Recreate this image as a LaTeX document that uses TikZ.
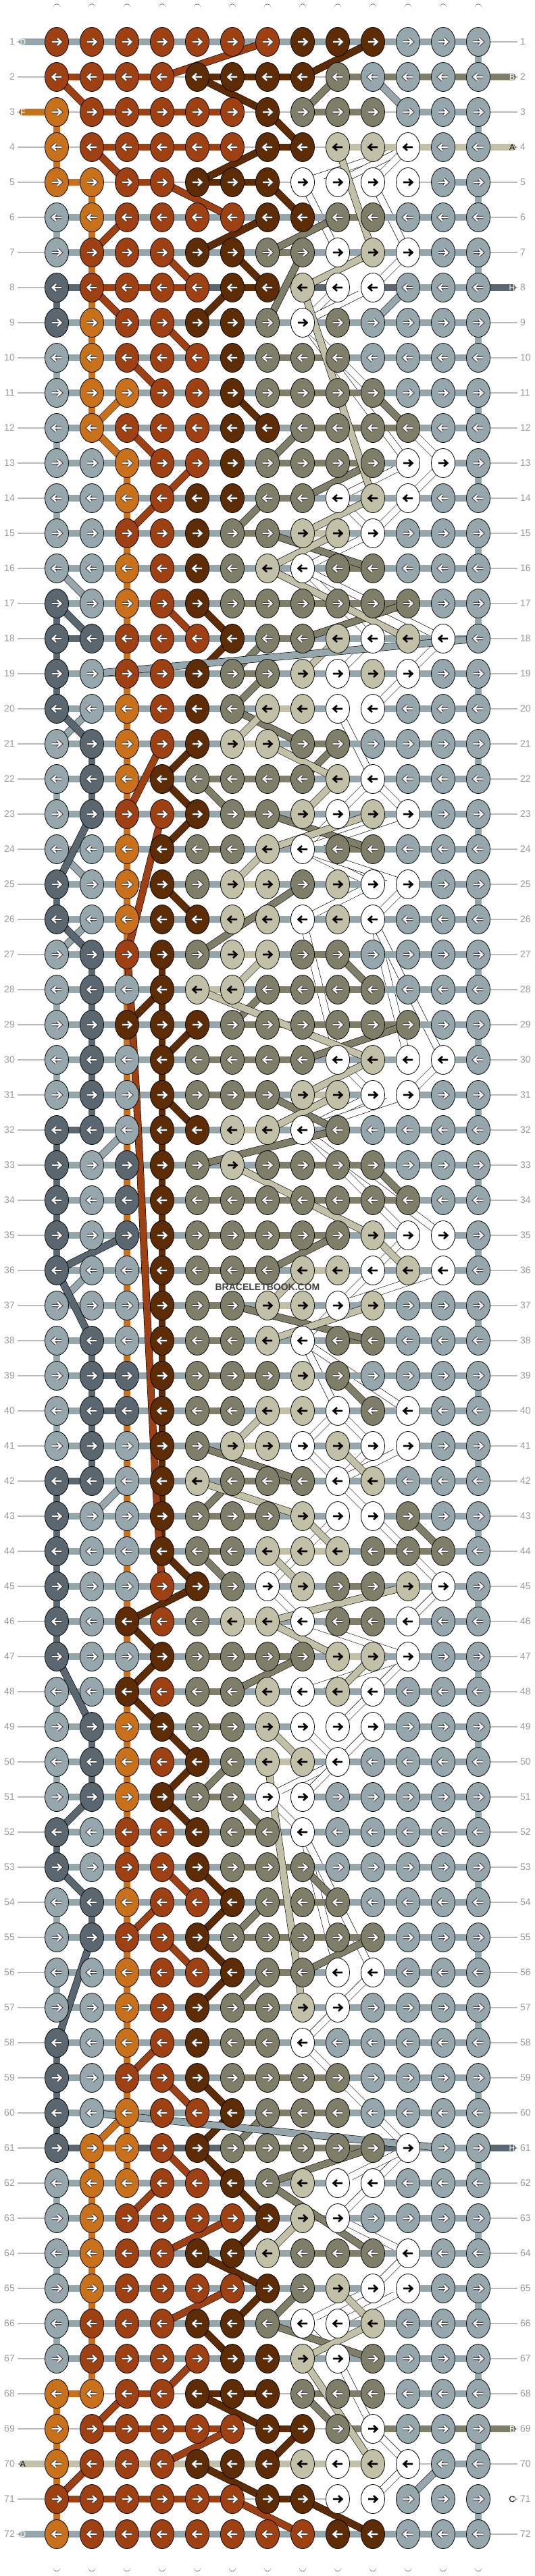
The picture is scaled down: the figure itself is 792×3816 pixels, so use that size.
\documentclass[tikz,border=0pt]{standalone}
\usepackage{fontspec}
\setmainfont{Liberation Sans}
\usetikzlibrary{shapes.geometric,backgrounds}
\definecolor{cD}{HTML}{95A6AD}
\definecolor{cF}{HTML}{C8701A}
\definecolor{cR}{HTML}{9E4012}
\definecolor{cK}{HTML}{5D2C04}
\definecolor{cB}{HTML}{7F7F69}
\definecolor{cA}{HTML}{C2C0A7}
\definecolor{cC}{HTML}{FFFFFF}
\definecolor{cH}{HTML}{5A6770}
\definecolor{Rule}{HTML}{BBBBBB}
\definecolor{Num}{HTML}{999999}
% strings that keep their own colour between two knots
\def\keepA{}\def\keepB{}\def\keepC{}\def\keepH{}
% strings that show between two knots of one column
\def\vertF{}\def\vertH{}
% light knots get a black arrow
\def\lightA{}\def\lightC{}

\tikzset{
  knot/.style={ellipse,draw=black,line width=.8pt,fill=c#1,minimum width=35pt,minimum height=43pt,inner sep=0pt},
  strand/.style={draw=black,line width=.6pt,double=c#1,double distance=9.6pt},
  basestr/.style={draw=black,line width=.6pt,double=white,double distance=9.6pt,line cap=round},
  guide/.style={draw=Rule,line width=1.4pt},
  num/.style={text=Num,font=\fontsize{14}{14}\selectfont,inner sep=0pt},
  tag/.style={font=\fontsize{12}{12}\selectfont,inner sep=0pt},
}

\newcommand\knotarrow[3]{%
  \ifcsname light#3\endcsname
    \draw[line width=2.6pt,shift={(#1)},xscale=#2] (-7,0)--(5,0) (1,-5)--(6.5,0)--(1,5);
  \else
    \draw[line width=4.4pt,black!80,shift={(#1)},xscale=#2] (-7,0)--(5,0) (1,-5)--(6.5,0)--(1,5);
    \draw[line width=2.4pt,white,shift={(#1)},xscale=#2] (-7,0)--(5,0) (1,-5)--(6.5,0)--(1,5);
  \fi}

\begin{document}
\begin{tikzpicture}[x=1pt,y=-1pt]
\useasboundingbox (0,0) rectangle (792,3816);

% rows of knots
\foreach \rw/\f/\row in {
 1/0/{R,R,R,R,R,R,R,K,K,K,D,D,D},
 2/1/{R,R,R,R,K,K,K,K,B,D,D,D,D},
 3/1/{F,R,R,R,R,R,K,B,B,B,D,D,D},
 4/1/{F,R,R,R,R,R,K,K,A,A,C,D,D},
 5/1/{F,F,R,R,K,K,K,C,C,C,C,D,D},
 6/0/{D,F,R,R,R,R,K,K,B,B,D,D,D},
 7/0/{D,R,R,R,K,K,B,B,C,A,C,D,D},
 8/1/{H,R,R,R,R,K,K,A,C,C,D,D,D},
 9/0/{H,F,R,R,K,K,B,C,B,D,D,D,D},
 10/0/{D,F,R,R,R,K,B,B,B,D,D,D,D},
 11/0/{D,F,F,R,R,K,B,B,B,B,D,D,D},
 12/0/{D,F,R,R,R,K,K,B,B,B,B,D,D},
 13/0/{D,D,F,R,R,K,B,B,B,B,C,C,D},
 14/0/{D,D,F,R,K,K,B,B,C,A,C,D,D},
 15/0/{D,D,R,R,K,B,B,A,A,C,D,D,D},
 16/0/{D,D,F,R,K,B,A,C,B,B,D,D,D},
 17/0/{H,D,F,R,K,B,B,B,B,B,B,D,D},
 18/0/{H,H,R,R,R,K,B,B,A,C,A,C,D},
 19/0/{H,D,R,R,K,B,B,A,C,A,C,D,D},
 20/0/{H,D,F,R,K,B,A,A,C,C,D,D,D},
 21/0/{D,H,F,R,K,A,A,B,B,D,D,D,D},
 22/0/{D,H,F,K,B,B,B,B,A,C,D,D,D},
 23/0/{D,H,R,R,K,B,B,A,C,A,C,D,D},
 24/0/{D,D,F,K,B,B,A,C,B,B,D,D,D},
 25/0/{H,D,F,K,B,A,A,B,A,C,C,D,D},
 26/0/{H,D,F,K,K,A,A,C,A,C,D,D,D},
 27/0/{D,H,R,K,B,A,A,B,B,D,D,D,D},
 28/0/{D,H,D,K,A,A,B,B,B,B,D,D,D},
 29/0/{D,H,K,K,K,B,B,B,B,B,B,D,D},
 30/0/{D,H,D,K,B,B,B,B,C,A,C,C,D},
 31/0/{D,H,D,K,B,B,B,A,A,C,C,D,D},
 32/0/{H,H,D,K,K,A,A,C,B,D,D,D,D},
 33/0/{H,D,H,K,B,A,B,B,B,B,D,D,D},
 34/0/{H,D,H,K,B,B,B,B,B,B,B,D,D},
 35/0/{H,D,H,K,B,B,B,B,B,A,C,C,D},
 36/0/{H,D,D,K,B,B,B,A,A,C,A,C,D},
 37/0/{D,D,D,K,B,B,A,A,C,A,D,D,D},
 38/0/{D,H,D,K,B,B,A,C,B,B,D,D,D},
 39/0/{D,H,H,K,B,B,B,A,B,D,D,D,D},
 40/0/{D,H,H,K,B,B,A,A,C,B,C,D,D},
 41/0/{D,H,D,K,B,A,A,C,A,C,C,D,D},
 42/0/{H,H,D,K,A,B,B,B,C,A,D,D,D},
 43/0/{H,D,D,K,B,B,B,A,C,C,B,D,D},
 44/0/{H,D,D,K,B,B,A,A,A,B,B,B,D},
 45/0/{H,D,D,R,K,B,C,A,B,B,A,C,D},
 46/0/{H,D,K,R,B,A,A,C,B,B,C,D,D},
 47/0/{H,D,D,K,B,B,B,B,A,A,C,D,D},
 48/0/{D,D,K,R,B,B,A,C,A,C,D,D,D},
 49/0/{D,H,F,K,B,B,A,C,C,C,D,D,D},
 50/0/{D,H,F,R,K,B,A,A,C,D,D,D,D},
 51/0/{D,H,F,K,B,B,C,C,D,D,D,D,D},
 52/0/{H,D,R,R,K,B,B,C,D,D,D,D,D},
 53/0/{H,D,R,R,K,B,B,B,D,D,D,D,D},
 54/0/{D,H,F,R,R,K,B,B,B,D,D,D,D},
 55/0/{D,H,R,R,K,B,B,B,B,B,D,D,D},
 56/0/{D,D,F,R,R,K,B,B,C,C,D,D,D},
 57/0/{D,D,F,R,K,B,B,A,C,D,D,D,D},
 58/0/{H,D,F,R,K,B,B,C,D,D,D,D,D},
 59/0/{H,D,R,R,K,B,B,B,B,D,D,D,D},
 60/0/{H,D,F,R,R,K,B,B,B,D,D,D,D},
 61/1/{H,F,F,R,K,B,B,B,B,B,C,D,D},
 62/0/{D,F,F,R,R,K,B,A,C,C,D,D,D},
 63/0/{D,F,R,R,R,R,K,A,C,D,D,D,D},
 64/0/{D,F,R,R,K,K,A,B,B,B,C,D,D},
 65/0/{D,F,R,R,R,R,K,B,A,C,C,D,D},
 66/0/{D,R,R,R,K,K,B,C,C,A,D,D,D},
 67/0/{D,R,R,R,R,K,K,A,C,B,D,D,D},
 68/1/{F,F,R,R,K,K,K,B,B,B,D,D,D},
 69/1/{F,R,R,R,R,R,K,K,B,C,D,D,D},
 70/1/{F,R,R,R,K,K,K,A,C,A,C,D,D},
 71/1/{R,R,R,R,R,R,K,K,C,C,D,D,D},
 72/0/{F,R,R,R,R,R,R,R,K,K,D,D,D}}{
  \pgfmathsetmacro\dir{2*mod(\rw,2)-1}
  \expandafter\xdef\csname fl-\rw\endcsname{\f}
  \coordinate (gl-\rw) at (26,{62+52*(\rw-1)});
  \coordinate (gr-\rw) at (766,{62+52*(\rw-1)});
  \node[num,anchor=east] (ln-\rw) at (22,{62+52*(\rw-1)}) {\rw};
  \node[num,anchor=west] (rn-\rw) at (770,{62+52*(\rw-1)}) {\rw};
  \foreach \knt [count=\col] in \row {
    \node[knot=\knt] (k-\rw-\col) at ({84+52*(\col-1)},{62+52*(\rw-1)}) {};
    \knotarrow{k-\rw-\col}{\dir}{\knt}
    \expandafter\xdef\csname kc-\rw-\col\endcsname{\knt}
  }
}

\begin{pgfonlayer}{background}
  % base strings
  \foreach \col in {1,...,13}{
    \coordinate (top-\col) at ({84+52*(\col-1)},11);
    \coordinate (bot-\col) at ({84+52*(\col-1)},3804);
    \draw[basestr] (top-\col) -- (bot-\col);
  }
  % the white string wandering between its knots
  \foreach \a/\b in {
    4-11/5-8,4-11/5-9,4-11/5-10,5-8/7-9,5-9/7-9,5-10/7-11,5-11/7-11,7-11/8-10,8-9/9-8,8-10/9-8,
    9-8/13-11,9-8/13-12,13-11/14-9,13-12/14-11,14-9/15-10,14-11/15-10,15-10/16-8,16-8/18-10,
    16-8/18-12,18-10/19-9,18-12/19-11,19-11/20-10,20-9/22-10,22-10/23-9,22-10/23-11,23-9/24-8,
    23-11/24-8,24-8/25-10,24-8/25-11,25-11/26-10,25-10/26-8,26-8/30-9,26-10/30-11,26-10/30-12,
    30-9/31-10,30-12/31-11,31-10/32-8,31-11/32-8,32-8/35-11,32-8/35-12,35-11/36-10,36-10/37-9,
    36-12/37-9,37-9/38-8,38-8/40-9,38-8/40-11,40-9/41-8,40-9/41-10,41-8/42-9,41-10/42-9,
    41-11/42-9,42-9/43-10,43-9/45-7,43-10/45-12,45-7/46-8,45-12/46-11,46-8/47-11,47-11/48-10,
    47-11/48-8,48-10/49-9,49-8/50-9,49-10/50-9,50-9/51-7,50-9/51-8,51-7/52-8,52-8/56-9,
    52-8/56-10,56-10/57-9,57-9/58-8,58-8/61-11,61-11/62-10,61-11/62-9,62-10/63-9,63-9/64-11,
    64-11/65-10,65-10/66-8,65-11/66-9,66-8/67-9,67-9/69-10,69-10/70-11,70-11/71-10}{
    \draw[strand=C] (k-\a.center) -- (k-\b.center);
  }
  \foreach \rw in {1,...,72}{
    \draw[guide] (gl-\rw) -- (gr-\rw);
    \ifnum\csname fl-\rw\endcsname=0
      \foreach \col in {2,...,13}{
        \pgfmathtruncatemacro\pc{\col-1}
        \edef\ka{\csname kc-\rw-\pc\endcsname}\edef\kb{\csname kc-\rw-\col\endcsname}
        \def\bc{D}
        \ifx\ka\kb \ifcsname keep\kb\endcsname \let\bc\kb \fi\fi
        \draw[strand=\bc] (k-\rw-\pc.center) -- (k-\rw-\col.center);
      }
    \fi
    \ifnum\rw>1
      \pgfmathtruncatemacro\pr{\rw-1}
      % turn at the edge
      \ifodd\rw \def\ec{1}\else\def\ec{13}\fi
      \edef\upk{\csname kc-\pr-\ec\endcsname}\edef\dnk{\csname kc-\rw-\ec\endcsname}
      \ifx\upk\dnk
        \draw[strand=\dnk] (k-\pr-\ec.center) -- (k-\rw-\ec.center);
      \fi
      % carried down a column
      \foreach \col in {1,...,13}{
        \edef\upk{\csname kc-\pr-\col\endcsname}\edef\dnk{\csname kc-\rw-\col\endcsname}
        \ifx\upk\dnk \ifcsname vert\dnk\endcsname
          \draw[strand=\dnk] (k-\pr-\col.center) -- (k-\rw-\col.center);
        \fi\fi
      }
    \fi
  }
  % rows whose strings leave the row
  \foreach \rw/\bars in {
   2/{R,R,R,-,K,K,K,-,B,B,B,B},
   3/{-,R,R,R,R,-,-,B,B,-,D,D},
   4/{-,R,R,R,R,-,K,-,A,A,A,A},
   5/{F,-,R,-,K,K,-,C,C,C,-,D},
   8/{H,R,R,R,H,K,-,H,C,H,D,D},
   61/{H,F,H,H,H,B,B,B,B,H,D,D},
   68/{F,-,R,-,K,K,-,B,B,-,D,D},
   69/{-,R,R,R,R,-,K,-,B,B,B,B},
   70/{A,A,A,A,A,A,A,A,A,C,-,D},
   71/{R,R,R,R,R,-,K,-,C,C,C,C}}{
    \foreach \bb [count=\col] in \bars {
      \if\bb-\else
        \pgfmathtruncatemacro\nc{\col+1}
        \draw[strand=\bb] (k-\rw-\col.center) -- (k-\rw-\nc.center);
      \fi
    }
  }
  % strings carried straight down behind the knots
  \foreach \clr/\a/\b in {F/3-1/5-1,F/5-2/11-2,F/13-3/60-3,F/61-2/68-2,F/68-1/72-1,K/27-4/44-4}{
    \draw[strand=\clr] (k-\a.center) -- (k-\b.center);
  }
  % strings moving to other columns
  \foreach \clr/\a/\b in {
    R/2-4/1-7,R/2-1/3-2,R/4-2/5-3,R/5-4/6-6,R/7-2/6-3,R/7-4/8-5,R/8-2/9-3,R/9-4/10-5,
    R/10-3/11-4,R/12-3/13-4,R/13-5/14-4,R/14-4/15-3,R/17-4/18-5,R/21-4/23-3,R/23-4/27-3,
    R/53-4/54-5,R/54-4/55-3,R/55-4/56-5,R/58-4/59-3,R/59-4/60-5,R/61-4/62-5,R/62-4/63-3,
    R/63-6/64-4,R/65-6/66-4,R/67-5/68-4,R/69-2/68-3,R/70-4/69-6,R/71-1/70-2,R/71-6/72-8,
    K/2-8/1-10,K/2-5/3-7,K/3-7/4-8,K/4-7/5-5,K/5-7/6-8,K/6-7/7-5,K/7-6/8-7,K/8-6/9-5,
    K/11-6/12-7,K/17-5/18-6,K/18-6/19-5,K/21-5/22-4,K/22-4/23-5,K/23-5/24-4,K/25-4/26-5,
    K/28-4/29-3,K/29-5/30-4,K/31-4/32-5,K/44-4/45-5,K/45-5/46-3,K/46-3/47-4,K/47-4/48-3,
    K/48-3/49-4,K/49-4/50-5,K/50-5/51-4,K/51-4/52-5,K/53-5/54-6,K/54-6/55-5,K/55-5/56-6,
    K/56-6/57-5,K/59-5/60-6,K/60-6/61-5,K/61-5/62-6,K/62-6/63-7,K/63-7/64-6,K/64-5/65-7,
    K/65-7/66-6,K/66-5/67-6,K/68-5/69-7,K/70-7/69-8,K/70-5/71-7,K/71-8/72-10,
    B/3-8/2-9,B/6-9/7-7,B/7-8/9-7,B/11-10/12-11,B/12-8/13-7,B/13-10/14-8,B/14-7/15-6,
    B/15-7/16-10,B/18-8/17-11,B/18-7/19-6,B/19-7/20-6,B/20-6/21-8,B/21-9/22-8,B/22-5/23-6,
    B/23-7/24-10,B/25-8/27-5,B/27-9/28-10,B/28-7/29-6,B/29-11/30-8,B/31-7/32-9,B/32-9/33-5,
    B/33-10/34-11,B/35-9/36-7,B/37-6/38-10,B/39-9/40-10,B/41-5/42-8,B/42-6/43-5,B/44-5/45-6,
    B/43-11/44-12,B/47-8/48-6,B/50-6/51-5,B/51-6/52-7,B/53-8/54-9,B/54-7/55-6,B/55-10/56-8,
    B/56-7/57-6,B/60-7/61-6,B/61-10/62-7,B/62-7/64-10,B/65-8/66-7,B/66-7/67-10,B/68-8/69-9,
    A/4-9/7-10,A/7-10/8-8,A/8-8/14-10,A/14-10/15-8,A/15-9/16-7,A/16-7/18-11,A/18-9/19-8,
    A/21-6/20-7,A/21-7/22-9,A/22-9/23-8,A/23-10/24-7,A/24-7/25-6,A/27-7/28-6,A/28-5/30-10,
    A/30-10/31-8,A/31-9/32-7,A/33-6/35-10,A/35-10/36-11,A/36-8/37-7,A/37-10/38-7,A/40-7/41-6,
    A/41-9/42-10,A/42-5/43-8,A/43-8/44-9,A/44-7/45-8,A/45-11/46-7,A/46-7/47-9,A/47-10/48-9,
    A/49-7/50-8,A/50-7/57-8,A/63-8/64-7,A/65-9/66-10,A/66-10/67-8,A/67-8/70-10,
    D/2-10/3-11,D/8-11/9-10,D/16-1/17-2,D/19-2/18-13,D/21-1/20-2,D/24-1/25-2,D/26-2/27-1,
    D/32-3/33-2,D/36-2/37-1,D/42-3/43-2,D/60-2/61-12,D/70-12/71-11,
    H/17-1/18-2,H/20-1/21-2,H/23-2/25-1,H/26-1/27-2,H/35-3/36-1,H/36-1/38-2,H/47-1/49-2,
    H/51-2/52-1,H/53-1/54-2,H/55-2/58-1,
    F/11-3/12-2,F/12-2/13-3,F/60-3/61-2}{
    \draw[strand=\clr] (k-\a.center) -- (k-\b.center);
  }
  % the long rust string
  \draw[strand=R] (k-27-3.center) .. controls (203,1560) and (222,2100) .. (k-45-4.center);
  % loose ends
  \foreach \rw/\col/\ex/\lt in {1/1/34/D,2/13/758/B,3/1/34/F,4/13/758/A,
    8/13/758/H,61/13/758/H,69/13/758/B,70/1/34/A,71/13/758/C,72/1/34/D}{
    \coordinate (s-\rw) at (\ex,{62+52*(\rw-1)});
    \draw[strand=\lt,line cap=round] (s-\rw) -- (k-\rw-\col.center);
  }
\end{pgfonlayer}

% letters of the loose ends
\foreach \rw/\lt/\tc in {1/D/white,2/B/white,3/F/white,4/A/black,8/H/white,
  61/H/white,69/B/white,70/A/black,71/C/black,72/D/white}{
  \node[tag,text=\tc] (t-\rw) at (s-\rw) {\lt};
}

\node[font=\bfseries\fontsize{14}{14}\selectfont,text=black!75] (wm) at (396,1907) {BRACELETBOOK.COM};
\end{tikzpicture}
\end{document}
